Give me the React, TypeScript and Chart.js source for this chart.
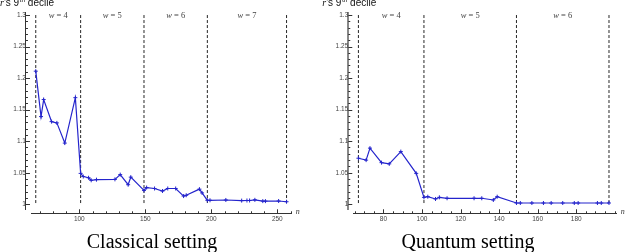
import { useEffect, useRef } from "react";
import { Chart, registerables } from "chart.js";

Chart.register(...registerables);

// Prime moduli n and the 9th decile of r for each setting
const classicalN = [67, 71, 73, 79, 83, 89, 97, 101, 103, 107, 109, 113, 127, 131, 137, 139, 149, 151, 157, 163, 167, 173, 179, 181, 191, 193, 197, 199, 211, 223, 227, 229, 233, 239, 241, 251, 257];
const classicalR = [1.211, 1.139, 1.166, 1.131, 1.129, 1.097, 1.169, 1.049, 1.044, 1.042, 1.038, 1.039, 1.0395, 1.047, 1.031, 1.043, 1.022, 1.0265, 1.025, 1.021, 1.025, 1.025, 1.013, 1.0143, 1.024, 1.018, 1.0063, 1.0063, 1.0068, 1.0058, 1.006, 1.006, 1.007, 1.005, 1.005, 1.0052, 1.004];

const quantumN = [67, 71, 73, 79, 83, 89, 97, 101, 103, 107, 109, 113, 127, 131, 137, 139, 149, 151, 157, 163, 167, 173, 179, 181, 191, 193, 197];
const quantumR = [1.073, 1.07, 1.089, 1.066, 1.064, 1.0835, 1.049, 1.011, 1.012, 1.0084, 1.011, 1.0095, 1.0095, 1.0095, 1.0068, 1.012, 1.002, 1.002, 1.002, 1.002, 1.002, 1.002, 1.002, 1.002, 1.002, 1.002, 1.002];

// Window-size regions w, delimited by these n values
const classicalBounds = [67, 101, 149, 197, 257];
const classicalWidths = ["4", "5", "6", "7"];
const quantumBounds = [67, 101, 149, 197];
const quantumWidths = ["4", "5", "6"];

// Tick labels
const yTicks = [1, 1.05, 1.1, 1.15, 1.2, 1.25, 1.3];
const classicalXTicks = [100, 150, 200, 250];
const quantumXTicks = [80, 100, 120, 140, 160, 180];

const Y_MIN = 0.9925;
const Y_MAX = 1.3037;
const X_AXIS_AT = 0.9857;

type PanelProps = {
  ns: number[];
  rs: number[];
  bounds: number[];
  widths: string[];
  xTicks: number[];
  minorStep: number;
  xMin: number;
  xMax: number;
  yAxisAt: number;
  caption: string;
  captionX: number;
  yAxisColor: string;
  yAxisWidth: number;
  padLeft: number;
  padRight: number;
};

const decorations = {
  id: "decorations",
  beforeDatasetsDraw(chart: any, _args: any, opts: any) {
    const { ctx, scales } = chart;
    const x = scales.x;
    const y = scales.y;
    ctx.save();
    ctx.strokeStyle = "#262626";
    ctx.lineWidth = 1;
    ctx.setLineDash([3, 2]);
    for (const b of opts.bounds) {
      const px = x.getPixelForValue(b);
      ctx.beginPath();
      ctx.moveTo(px, y.getPixelForValue(1.3));
      ctx.lineTo(px, y.getPixelForValue(1));
      ctx.stroke();
    }
    ctx.restore();
  },
  afterDraw(chart: any, _args: any, opts: any) {
    const { ctx, scales } = chart;
    const x = scales.x;
    const y = scales.y;
    const axisY = y.getPixelForValue(X_AXIS_AT);
    const axisX = x.getPixelForValue(opts.yAxisAt);
    ctx.save();

    // tick marks on the x axis (pointing up)
    ctx.strokeStyle = "#333";
    ctx.lineWidth = 1;
    const start = Math.ceil(opts.xMin / opts.minorStep) * opts.minorStep;
    for (let v = start; v <= opts.xMax; v += opts.minorStep) {
      const px = Math.round(x.getPixelForValue(v)) + 0.5;
      const len = opts.xTicks.includes(v) ? 4 : 2;
      ctx.beginPath();
      ctx.moveTo(px, axisY);
      ctx.lineTo(px, axisY - len);
      ctx.stroke();
    }
    // tick marks on the y axis (pointing right)
    for (let i = 0; i <= 30; i++) {
      const v = 1 + i / 100;
      const py = Math.round(y.getPixelForValue(v)) + 0.5;
      const len = i % 5 === 0 ? 4 : 2;
      ctx.beginPath();
      ctx.moveTo(axisX, py);
      ctx.lineTo(axisX + len, py);
      ctx.stroke();
    }

    // region labels "w = k"
    ctx.fillStyle = "#444";
    ctx.textBaseline = "alphabetic";
    for (let i = 0; i < opts.widths.length; i++) {
      const mid = x.getPixelForValue((opts.bounds[i] + opts.bounds[i + 1]) / 2);
      ctx.font = "italic 8.5px 'Liberation Serif'";
      const wW = ctx.measureText("w").width;
      ctx.font = "8.5px 'Liberation Serif'";
      const rest = " = " + opts.widths[i];
      const rW = ctx.measureText(rest).width;
      const left = mid - (wW + rW) / 2;
      ctx.font = "italic 8.5px 'Liberation Serif'";
      ctx.textAlign = "left";
      ctx.fillText("w", left, 17.5);
      ctx.font = "8.5px 'Liberation Serif'";
      ctx.fillText(rest, left + wW, 17.5);
    }

    // axis variable n
    ctx.fillStyle = "#333";
    ctx.font = "italic 8px 'Liberation Serif'";
    ctx.textAlign = "left";
    ctx.fillText("n", chart.chartArea.right + 4, axisY + 1);

    // y axis title: r's 9th decile
    ctx.fillStyle = "#111";
    let tx = axisX - 26;
    const base = 5.5;
    ctx.font = "italic 10px 'Liberation Serif'";
    ctx.fillText("r", tx, base);
    tx += ctx.measureText("r").width;
    ctx.font = "10px 'Liberation Sans'";
    ctx.fillText("'s 9", tx, base);
    tx += ctx.measureText("'s 9").width;
    ctx.font = "6.5px 'Liberation Sans'";
    ctx.fillText("th", tx + 0.5, base - 3.5);
    tx += ctx.measureText("th").width + 0.5;
    ctx.font = "10px 'Liberation Sans'";
    ctx.fillText(" decile", tx, base);

    // caption
    ctx.fillStyle = "#000";
    ctx.font = "20px 'Liberation Serif'";
    ctx.textAlign = "center";
    ctx.fillText(opts.caption, opts.captionX, 247.5);
    ctx.restore();
  },
};

function Panel(props: PanelProps) {
  const ref = useRef<HTMLCanvasElement | null>(null);

  useEffect(() => {
    if (!ref.current) return;
    const chart = new Chart(ref.current, {
      type: "line",
      data: {
        datasets: [
          {
            data: props.ns.map((n, i) => ({ x: n, y: props.rs[i] })),
            borderColor: "#2424cc",
            backgroundColor: "#2424cc",
            borderWidth: 1.2,
            pointStyle: "cross",
            pointRadius: 2,
            pointBorderWidth: 1,
            pointBorderColor: "#2424cc",
            tension: 0,
            fill: false,
          },
        ],
      },
      options: {
        animation: false,
        responsive: false,
        devicePixelRatio: 1,
        layout: {
          padding: { left: props.padLeft, right: props.padRight, top: 12.7, bottom: 43 },
        },
        plugins: {
          legend: { display: false },
          tooltip: { enabled: false },
          decorations: {
            bounds: props.bounds,
            widths: props.widths,
            xTicks: props.xTicks,
            minorStep: props.minorStep,
            xMin: props.xMin,
            xMax: props.xMax,
            yAxisAt: props.yAxisAt,
            caption: props.caption,
            captionX: props.captionX,
          },
        } as any,
        scales: {
          x: {
            type: "linear",
            min: props.xMin,
            max: props.xMax,
            position: { y: X_AXIS_AT } as any,
            afterBuildTicks: (s: any) => {
              s.ticks = props.xTicks.map((v) => ({ value: v }));
            },
            grid: { display: false, drawTicks: false },
            border: { display: true, color: "#333", width: 1 },
            ticks: {
              padding: 2,
              maxRotation: 0,
              autoSkip: false,
              color: "#444",
              font: { family: "'Liberation Sans'", size: 6.5 },
              callback: (v: any) => String(v),
            },
          },
          y: {
            type: "linear",
            min: Y_MIN,
            max: Y_MAX,
            position: { x: props.yAxisAt } as any,
            afterBuildTicks: (s: any) => {
              s.ticks = yTicks.map((v) => ({ value: v }));
            },
            grid: { display: false, drawTicks: false },
            border: { display: true, color: props.yAxisColor, width: props.yAxisWidth },
            ticks: {
              padding: 2,
              autoSkip: false,
              color: "#444",
              font: { family: "'Liberation Sans'", size: 6.5 },
              callback: (v: any) => String(+Number(v).toFixed(2)),
            },
          },
        },
      },
      plugins: [decorations],
    });
    return () => chart.destroy();
  }, []);

  return <canvas ref={ref} width={314} height={252} style={{ display: "block", width: 314, height: 252 }} />;
}

export default function App() {
  return (
    <div style={{ position: "fixed", left: 0, top: 0, width: 628, height: 252, display: "flex", background: "#fff" }}>
      <Panel
        ns={classicalN}
        rs={classicalR}
        bounds={classicalBounds}
        widths={classicalWidths}
        xTicks={classicalXTicks}
        minorStep={10}
        xMin={63.4}
        xMax={260.9}
        yAxisAt={59.6}
        caption="Classical setting"
        captionX={152}
        yAxisColor="#333"
        yAxisWidth={1}
        padLeft={31}
        padRight={22.3}
      />
      <Panel
        ns={quantumN}
        rs={quantumR}
        bounds={quantumBounds}
        widths={quantumWidths}
        xTicks={quantumXTicks}
        minorStep={5}
        xMin={64.35}
        xMax={201.0}
        yAxisAt={61.74}
        caption="Quantum setting"
        captionX={154}
        yAxisColor="#888"
        yAxisWidth={2}
        padLeft={39.3}
        padRight={11.3}
      />
    </div>
  );
}
